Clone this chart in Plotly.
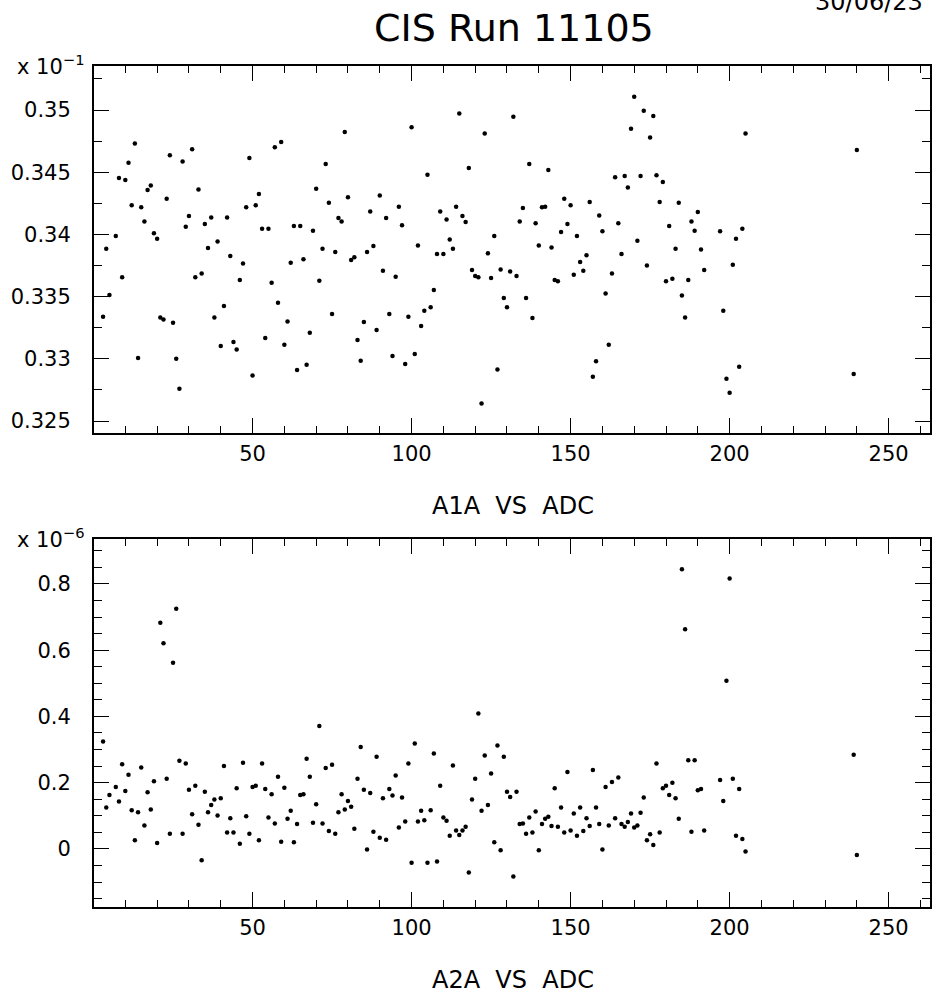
import plotly.graph_objects as go

adc = [3, 4, 5, 7, 8, 9, 10, 11, 12, 13, 14, 15, 16, 17, 18, 19, 20, 21, 22, 23, 24, 25, 26, 27, 28, 29, 30,
       31, 32, 33, 34, 35, 36, 37, 38, 39, 40, 41, 42, 43, 44, 45, 46, 47, 48, 49, 50, 51, 52, 53, 54, 55,
       56, 57, 58, 59, 60, 61, 62, 63, 64, 65, 66, 67, 68, 69, 70, 71, 72, 73, 74, 75, 76, 77, 78, 79, 80,
       81, 82, 83, 84, 85, 86, 87, 88, 89, 90, 91, 92, 93, 94, 95, 96, 97, 98, 99, 100, 101, 102, 103, 104,
       105, 106, 107, 108, 109, 110, 111, 112, 113, 114, 115, 116, 117, 118, 119, 120, 121, 122, 123, 124,
       125, 126, 127, 128, 129, 130, 131, 132, 133, 134, 135, 136, 137, 138, 139, 140, 141, 142, 143, 144,
       145, 146, 147, 148, 149, 150, 151, 152, 153, 154, 155, 156, 157, 158, 159, 160, 161, 162, 163, 164,
       165, 166, 167, 168, 169, 170, 171, 172, 173, 174, 175, 176, 177, 178, 179, 180, 181, 182, 183, 184,
       185, 186, 187, 188, 189, 190, 191, 192, 197, 198, 199, 200, 201, 202, 203, 204, 205, 239, 240]

# A1A values (shown in units of 10^-1)
a1a = [0.33339, 0.33885, 0.33513, 0.33987, 0.34453, 0.33655, 0.34437, 0.34577, 0.34234, 0.34732,
       0.33006, 0.34218, 0.34105, 0.34357, 0.34394, 0.34009, 0.33966, 0.33333, 0.33317, 0.34287,
       0.34636, 0.33290, 0.33001, 0.32760, 0.34587, 0.34062, 0.34148, 0.34684, 0.33655, 0.34362,
       0.33687, 0.34084, 0.33891, 0.34137, 0.33333, 0.33944, 0.33103, 0.33424, 0.34137, 0.33826,
       0.33135, 0.33076, 0.33633, 0.33767, 0.34218, 0.34614, 0.32867, 0.34234, 0.34325, 0.34046,
       0.33167, 0.34046, 0.33612, 0.34700, 0.33451, 0.34743, 0.33114, 0.33301, 0.33773, 0.34067,
       0.32910, 0.34067, 0.33800, 0.32953, 0.33210, 0.34030, 0.34368, 0.33628, 0.33885, 0.34566,
       0.34255, 0.33360, 0.33858, 0.34132, 0.34105, 0.34823, 0.34298, 0.33794, 0.33816, 0.33151,
       0.32985, 0.33296, 0.33858, 0.34185, 0.33907, 0.33231, 0.34314, 0.33708, 0.34132, 0.33360,
       0.33022, 0.33660, 0.34223, 0.34073, 0.32958, 0.33339, 0.34861, 0.33039, 0.33912, 0.33264,
       0.33387, 0.34480, 0.33414, 0.33553, 0.33842, 0.34185, 0.33842, 0.34121, 0.33960, 0.33885,
       0.34223, 0.34973, 0.34148, 0.34100, 0.34534, 0.33714, 0.33666, 0.33655, 0.32642, 0.34812,
       0.33848, 0.33650, 0.33987, 0.32915, 0.33719, 0.33489, 0.33414, 0.33703, 0.34946, 0.33666,
       0.34105, 0.34212, 0.33489, 0.34566, 0.33328, 0.34089, 0.33912, 0.34218, 0.34223, 0.34518,
       0.33896, 0.33633, 0.33623, 0.34019, 0.34287, 0.34084, 0.34234, 0.33676, 0.33987, 0.33778,
       0.33708, 0.33832, 0.34260, 0.32856, 0.32980, 0.34153, 0.34025, 0.33526, 0.33114, 0.33687,
       0.34459, 0.34089, 0.33842, 0.34469, 0.34378, 0.34850, 0.35107, 0.33950, 0.34469, 0.34995,
       0.33751, 0.34780, 0.34952, 0.34475, 0.34260, 0.34421, 0.33623, 0.34067, 0.33644, 0.33885,
       0.34255, 0.33510, 0.33333, 0.33633, 0.34105, 0.34030, 0.34180, 0.33880, 0.33714, 0.34025,
       0.33387, 0.32840, 0.32728, 0.33757, 0.33966, 0.32937, 0.34046, 0.34812, 0.32878, 0.34678]

# A2A values (shown in units of 10^-6)
a2a = [0.324, 0.125, 0.163, 0.187, 0.143, 0.256, 0.175, 0.224, 0.117, 0.026, 0.111, 0.246, 0.071,
       0.171, 0.119, 0.204, 0.018, 0.683, 0.621, 0.212, 0.046, 0.562, 0.725, 0.266, 0.046, 0.258,
       0.179, 0.105, 0.191, 0.073, -0.034, 0.173, 0.111, 0.133, 0.149, 0.101, 0.153, 0.250, 0.050,
       0.093, 0.050, 0.183, 0.016, 0.260, 0.099, 0.046, 0.187, 0.191, 0.026, 0.258, 0.181, 0.095,
       0.165, 0.077, 0.218, 0.022, 0.185, 0.091, 0.115, 0.020, 0.075, 0.163, 0.165, 0.272, 0.218,
       0.079, 0.135, 0.371, 0.077, 0.244, 0.054, 0.254, 0.046, 0.111, 0.165, 0.119, 0.145, 0.127,
       0.061, 0.212, 0.308, 0.179, -0.002, 0.169, 0.052, 0.278, 0.034, 0.153, 0.028, 0.181, 0.161,
       0.222, 0.065, 0.155, 0.083, 0.258, -0.042, 0.318, 0.083, 0.115, 0.087, -0.042, 0.117, 0.288,
       -0.038, 0.191, 0.095, 0.085, 0.040, 0.252, 0.056, 0.042, 0.056, 0.067, -0.071, 0.149, 0.212,
       0.409, 0.115, 0.282, 0.133, 0.228, 0.020, 0.312, -0.004, 0.278, 0.173, 0.157, -0.083, 0.173,
       0.075, 0.077, 0.046, 0.095, 0.050, 0.113, -0.004, 0.075, 0.091, 0.097, 0.069, 0.183, 0.067,
       0.125, 0.050, 0.232, 0.056, 0.107, 0.040, 0.125, 0.054, 0.093, 0.069, 0.238, 0.125, 0.075,
       -0.002, 0.187, 0.071, 0.202, 0.093, 0.216, 0.075, 0.067, 0.081, 0.107, 0.065, 0.071, 0.109,
       0.155, 0.026, 0.044, 0.012, 0.258, 0.050, 0.183, 0.191, 0.163, 0.200, 0.153, 0.091, 0.844,
       0.663, 0.268, 0.052, 0.268, 0.177, 0.181, 0.056, 0.208, 0.145, 0.508, 0.816, 0.212, 0.040,
       0.181, 0.030, -0.008, 0.284, -0.018]

x_ticks = [50, 100, 150, 200, 250]
title_text = "CIS Run 11105"
date_text = "30/06/23"
label_top = "A1A\u00a0\u00a0VS\u00a0\u00a0ADC"
label_bot = "A2A\u00a0\u00a0VS\u00a0\u00a0ADC"
exp_top = "x 10<sup>\u22121</sup>"
exp_bot = "x 10<sup>\u22126</sup>"

FONT = "DejaVu Sans"
W, H = 934, 996
ML, MR, MT, MB = 94, 2, 66, 89
PH = H - MT - MB


def py(ypx):
    return (H - MB - ypx) / PH


top_dom = [py(433), 1.0]
bot_dom = [0.0, py(538.5)]

fig = go.Figure()
mk = dict(color="black", size=4.5, symbol="circle", line=dict(width=0))
fig.add_trace(go.Scatter(x=adc, y=a1a, mode="markers", marker=mk, xaxis="x", yaxis="y",
                         showlegend=False, hoverinfo="skip"))
fig.add_trace(go.Scatter(x=adc, y=a2a, mode="markers", marker=mk, xaxis="x2", yaxis="y2",
                         showlegend=False, hoverinfo="skip"))

xcommon = dict(range=[0.15, 263], tickmode="array", tickvals=x_ticks, ticks="inside", ticklen=15,
               tickwidth=1.3, tickcolor="black", showline=True, linewidth=2, linecolor="black",
               mirror="allticks", showgrid=False, zeroline=False,
               tickfont=dict(family=FONT, size=21, color="black"), ticklabelstandoff=1,
               minor=dict(tickmode="array", tickvals=list(range(10, 261, 10)), ticks="inside",
                          ticklen=7, tickwidth=1.3, tickcolor="black", showgrid=False))
ycommon = dict(ticks="inside", ticklen=15, tickwidth=1.3, tickcolor="black", showline=True,
               linewidth=2, linecolor="black", mirror="allticks", showgrid=False, zeroline=False,
               tickfont=dict(family=FONT, size=21, color="black"), ticklabelstandoff=17)

fig.update_layout(
    width=W, height=H, margin=dict(l=ML, r=MR, t=MT, b=MB),
    paper_bgcolor="white", plot_bgcolor="white",
    xaxis=dict(domain=[0, 1], anchor="y", **xcommon),
    xaxis2=dict(domain=[0, 1], anchor="y2", **xcommon),
    yaxis=dict(domain=top_dom, anchor="x", range=[0.32404, 0.35354], tickmode="linear",
               tick0=0.325, dtick=0.005,
               minor=dict(dtick=0.0025, tick0=0.325, ticks="inside", ticklen=8, tickwidth=1.3,
                          tickcolor="black", showgrid=False),
               **ycommon),
    yaxis2=dict(domain=bot_dom, anchor="x2", range=[-0.1752, 0.937], tickmode="linear",
                tick0=0, dtick=0.2,
                minor=dict(dtick=0.05, tick0=0, ticks="inside", ticklen=8, tickwidth=1.3,
                           tickcolor="black", showgrid=False),
                **ycommon),
    font=dict(family=FONT, color="black"),
)


def px_x(xpx):
    return (xpx - ML) / (W - ML - MR)


ann = [
    dict(text=title_text, x=px_x(515), y=py(28), font=dict(size=38)),
    dict(text=date_text, x=px_x(927), y=py(2), xanchor="right", yanchor="middle",
         font=dict(size=24)),
    dict(text=label_top, x=px_x(514), y=py(506), font=dict(size=24)),
    dict(text=label_bot, x=px_x(514), y=py(980), font=dict(size=24)),
    dict(text=exp_top, x=px_x(86), y=py(65), xanchor="right", font=dict(size=21)),
    dict(text=exp_bot, x=px_x(86), y=py(538), xanchor="right", font=dict(size=21)),
]
for a in ann:
    a.setdefault("xanchor", "center")
    a.setdefault("yanchor", "middle")
    fig.add_annotation(xref="paper", yref="paper", showarrow=False,
                       font=dict(family=FONT, color="black", size=a.pop("font")["size"]), **a)

fig.write_html("out.html")
